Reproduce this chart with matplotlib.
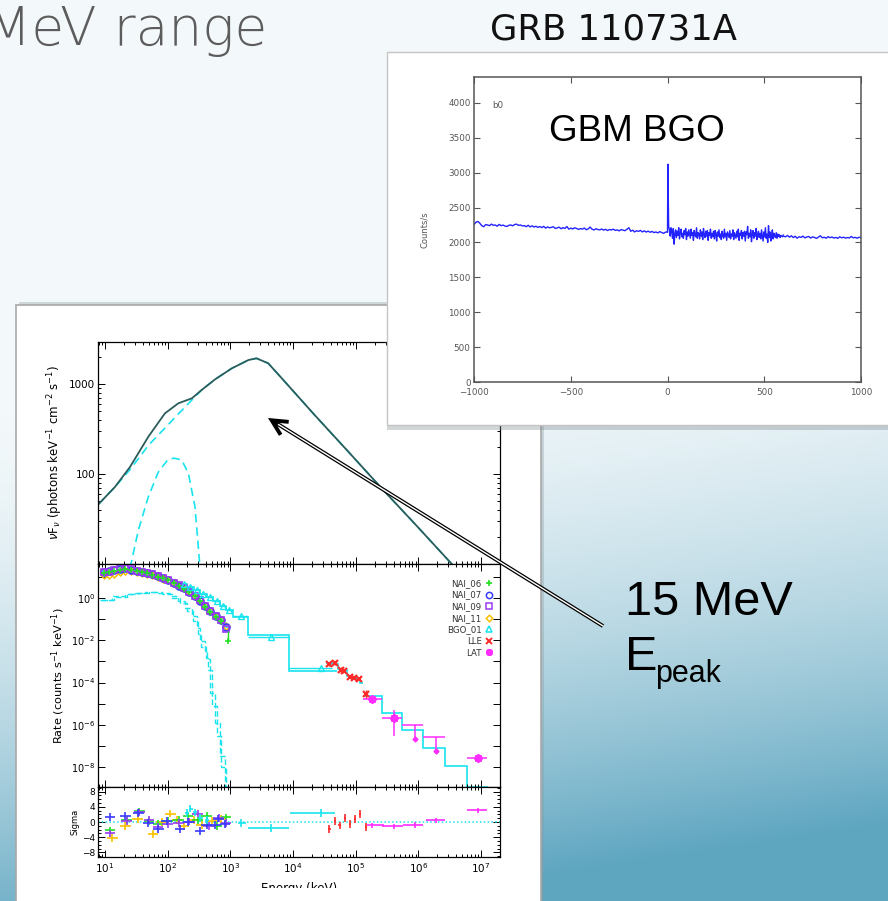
import numpy as np
import matplotlib
matplotlib.use("Agg")
import matplotlib.pyplot as plt
from matplotlib.patches import Rectangle, FancyArrowPatch
from matplotlib.lines import Line2D
from matplotlib.ticker import FixedLocator, NullLocator, FuncFormatter, LogLocator, MultipleLocator

# ---------------- data: light curve (GBM BGO b0) ----------------
LC_PRE_COUNTS = [
    2255, 2290, 2300, 2275, 2240, 2225, 2255, 2250, 2240, 2262,
    2245, 2250, 2232, 2258, 2240, 2248, 2235, 2228, 2245, 2250,
    2238, 2256, 2262, 2244, 2250, 2236, 2240, 2225, 2246, 2222,
    2238, 2220, 2232, 2215, 2228, 2212, 2230, 2205, 2222, 2210,
    2215, 2225, 2200, 2208, 2218, 2196, 2212, 2200, 2228, 2190,
    2205, 2192, 2210, 2200, 2186, 2198, 2190, 2206, 2182, 2194,
    2220, 2190, 2178, 2196, 2185, 2180, 2192, 2176, 2188, 2170,
    2185, 2178, 2190, 2172, 2180, 2165, 2184, 2176, 2168, 2188,
    2210, 2160, 2175, 2150, 2168, 2158, 2172, 2150, 2166, 2148,
    2162, 2145, 2158, 2140, 2150, 2136, 2155, 2142, 2130, 2148,
    2150]
LC_BURST_COUNTS = [
    3120, 2230, 2180, 2090, 2210, 2150, 2060, 2200, 1975, 2120,
    2180, 2070, 2160, 2100, 2210, 2050, 2140, 2190, 2080, 2130,
    2060, 2170, 2110, 2200, 2040, 2150, 2090, 2180, 2120, 2060,
    2190, 2100, 2140, 2030, 2170, 2110, 2080, 2210, 2060, 2140,
    2120, 2050, 2180, 2090, 2150, 2040, 2200, 2110, 2070, 2160,
    2090, 2170, 2030, 2140, 2100, 2190, 2060, 2130, 2080, 2160,
    2050, 2170, 2110, 2020, 2150, 2090, 2180, 2070, 2120, 2040,
    2160, 2100, 2060, 2190, 2080, 2130, 2030, 2150, 2110, 2070,
    2170, 2050, 2120, 2090, 2180, 2040, 2140, 2100, 2060, 2160,
    2080, 2190, 2030, 2130, 2100, 2170, 2050, 2140, 2090, 2160,
    2020, 2150, 2110, 2230, 2060, 2130, 2080, 2180, 2010, 2120,
    2170, 2060, 2140, 2090, 2200, 2040, 2110, 2160, 2070, 2130,
    2050, 2180, 2100, 2020, 2150, 2080, 2210, 2060, 2120, 2000,
    2240, 2070, 2150, 2020, 2110, 2180, 2050, 2130, 2090, 2070,
    2140, 2060, 2120, 2085, 2110, 2070, 2100, 2090, 2080, 2105]
LC_LATE_COUNTS = [
    2090, 2080, 2100, 2075, 2095, 2070, 2088, 2060, 2082, 2072,
    2090, 2065, 2078, 2085, 2062, 2080, 2070, 2058, 2076, 2095,
    2066, 2074, 2060, 2082, 2068, 2078, 2062, 2072, 2058, 2080,
    2066, 2074, 2062, 2070, 2064, 2085, 2066, 2072, 2060, 2074, 2068]
LC_T_PRE = np.arange(-1000, 1, 10)
LC_T_BURST = np.arange(2, 602, 4)
LC_T_LATE = np.arange(600, 1001, 10)
LC_XTICKS = [-1000, -500, 0, 500, 1000]
LC_YTICKS = [0, 500, 1000, 1500, 2000, 2500, 3000, 3500, 4000]

# ---------------- data: nuFnu model (top panel) ----------------
TOT_E = [7.8, 14.4, 25, 49, 90, 147, 242, 347, 570, 1050, 1940, 2600, 4000, 6600, 2.2e4, 7.6e4, 2.6e5, 8.9e5, 3.4e6]
TOT_F = [46, 72, 120, 260, 472, 610, 693, 858, 1128, 1493, 1848, 1930, 1700, 1157, 453, 177, 69, 27.6, 10]
BAND_E = [7.8, 14.4, 25, 49, 90, 147, 272, 347, 570, 1050, 1940, 2600, 4000, 6600, 2.2e4, 7.6e4, 2.6e5, 8.9e5, 3.4e6]
BAND_F = [46, 72, 112, 208, 324, 464, 722, 858, 1128, 1493, 1848, 1930, 1700, 1157, 453, 177, 69, 27.6, 10]
BB_E = [25, 34, 49, 71, 102, 127, 167, 213, 272, 327]
BB_F = [9, 23.9, 56, 106, 146, 150, 143, 102, 43, 9]

# ---------------- data: count spectra (middle panel) ----------------
NAI_E = [9.5, 11.5, 14, 17, 21, 26, 32, 39, 47, 57, 69, 84, 102, 124, 150, 182, 221, 268, 325, 394, 478, 580, 703, 853]
NAI06_E = [9.5, 11.5, 14, 17, 21, 26, 32, 39, 47, 57, 69, 84, 102, 124, 150, 182, 221, 268, 325, 394, 478, 580, 703, 900]
NAI06_R = [16, 17, 19, 22, 24, 22, 19.5, 17, 15, 13, 10.5, 8.8, 7.0, 5.2, 3.9, 2.8, 1.95, 1.25, 0.72, 0.40, 0.23, 0.13, 0.085, 0.009]
NAI07_R = [18, 19, 21, 24, 26, 23, 20, 17, 15, 13.5, 11, 9, 7.2, 5.3, 4.0, 2.9, 2.0, 1.3, 0.75, 0.42, 0.24, 0.14, 0.09, 0.045]
NAI09_R = [17, 18.5, 22, 26, 27, 24, 20, 17.5, 15.5, 13.5, 11.5, 9.2, 7.4, 5.5, 4.1, 3.0, 2.0, 1.3, 0.78, 0.43, 0.25, 0.15, 0.095, 0.035]
NAI11_R = [12, 13, 14.5, 17, 19, 19, 17, 15, 13.5, 12, 10, 8.5, 7.0, 5.2, 4.0, 2.9, 2.0, 1.3, 0.78, 0.44, 0.25, 0.15, 0.09, 0.05]
NAI_MODEL_EDGES = [8.5, 10.5, 12.7, 15.5, 19, 23, 28.5, 35, 43, 52, 63, 76, 93, 113, 137, 166, 202, 245, 298, 362, 440, 535, 650, 790, 920]
NAI_MODEL_R = [17, 18, 20, 23, 25, 23, 20, 17, 15, 13.5, 11, 9, 7.2, 5.3, 4.0, 2.9, 2.0, 1.3, 0.75, 0.42, 0.24, 0.14, 0.09, 0.045]

BGO_E = [180, 230, 290, 370, 470, 600, 760, 960, 1500, 4500, 2.8e4]
BGO_R = [4.5, 3.4, 2.4, 1.6, 1.1, 0.75, 0.45, 0.27, 0.14, 0.015, 5.0e-4]
BGO_LO = [160, 205, 260, 330, 420, 530, 680, 860, 1080, 1890, 8700]
BGO_HI = [205, 260, 330, 420, 530, 680, 860, 1080, 1890, 8700, 4.1e4]
BGO_MODEL_EDGES = [160, 205, 260, 330, 420, 530, 680, 860, 1080, 1890, 8700, 4.95e4]
BGO_MODEL_R = [4.5, 3.4, 2.4, 1.6, 1.1, 0.75, 0.45, 0.27, 0.13, 0.018, 3.5e-4]

BB_A_EDGES = [8.3, 12.8, 20.8, 30, 43.5, 71, 108, 147, 188, 242, 290, 327, 393, 418, 472, 570, 682, 820, 900]
BB_A_R = [0.86, 1.25, 1.6, 1.85, 2.0, 1.8, 1.25, 0.72, 0.35, 0.14, 0.038, 0.009, 3e-3, 1.25e-3, 3.2e-5, 1.2e-6, 3.1e-8, 1.1e-9]
BB_B_EDGES = [9, 14, 22, 33, 50, 80, 115, 155, 200, 255, 300, 345, 400, 440, 500, 600, 700, 850, 950]
BB_B_R = [0.8, 1.15, 1.5, 1.75, 1.9, 1.6, 1.05, 0.6, 0.25, 0.08, 0.02, 0.005, 1.5e-3, 4e-4, 8e-6, 3e-7, 1e-8, 1.1e-9]

LLE_E = [3.8e4, 4.65e4, 5.8e4, 6.6e4, 8.1e4, 9.5e4, 1.12e5, 1.44e5]
LLE_R = [7.2e-4, 8.0e-4, 3.9e-4, 3.7e-4, 1.9e-4, 1.7e-4, 1.5e-4, 3.0e-5]
LLE_R_LO = [6.2e-4, 7.0e-4, 3.4e-4, 3.2e-4, 1.6e-4, 1.45e-4, 1.25e-4, 1.6e-5]
LLE_R_HI = [8.2e-4, 9.0e-4, 4.4e-4, 4.2e-4, 2.2e-4, 1.95e-4, 1.75e-4, 4.2e-5]
LLE_MODEL_EDGES = [3.4e4, 4.2e4, 5.2e4, 6.2e4, 7.3e4, 8.8e4, 1.03e5, 1.18e5, 1.32e5]
LLE_MODEL_R = [8.7e-4, 7.6e-4, 4.4e-4, 3.8e-4, 2.0e-4, 1.7e-4, 1.4e-4, 1.0e-4]

LAT_E = [1.8e5, 4.1e5, 9.0e6]
LAT_R = [1.7e-5, 2.1e-6, 2.6e-8]
LAT_LO = [1.32e5, 2.59e5, 5.9e6]
LAT_HI = [2.59e5, 5.4e5, 1.24e7]
LAT_R_LO = [1.2e-5, 3.0e-7, 2.0e-8]
LAT_R_HI = [2.3e-5, 5.2e-6, 3.3e-8]
LAT_UL_E = [8.8e5, 1.9e6]
LAT_UL_R = [2.1e-7, 5.4e-8]
LAT_UL_TOP = [1.0e-6, 2.6e-7]
LAT_UL_LO = [5.4e5, 1.19e6]
LAT_UL_HI = [1.19e6, 2.65e6]
LAT_MODEL_EDGES = [1.32e5, 2.59e5, 5.4e5, 1.19e6, 2.65e6, 5.9e6, 1.3e7]
LAT_MODEL_R = [2.2e-5, 3.6e-6, 5.8e-7, 7.8e-8, 1.04e-8, 1.15e-9]

LEGEND_LABELS = ["NAI_06", "NAI_07", "NAI_09", "NAI_11", "BGO_01", "LLE", "LAT"]

# ---------------- data: residuals (bottom panel) ----------------
RES06_E = [12, 22, 35, 50, 70, 100, 150, 210, 300, 420, 600, 850]
RES06_S = [-2.2, 0.5, 2.8, 0.2, -0.5, 0.3, 0.6, 1.5, 0.4, 1.6, -1.0, 1.2]
RES07_E = [12, 21, 34, 49, 71, 96, 157, 213, 327, 418, 570, 640, 820]
RES07_S = [1.3, 1.5, 2.4, -0.2, -1.8, 0.3, -1.8, 0.0, -2.3, -0.8, -0.8, 0.9, -0.6]
RES09_E = [12, 22, 35, 50, 70, 100, 150, 220, 300, 450, 650, 850]
RES09_S = [-3.0, 0.2, 2.5, 0.5, -1.2, -0.5, -0.2, 0.1, 2.2, -1.0, 1.0, -0.3]
RES11_E = [13, 21, 33, 58, 80, 110, 140, 180, 260, 350, 500, 700]
RES11_S = [-4.2, -1.0, 0.8, -3.2, 0.0, 2.2, 0.5, -1.0, 0.5, -0.8, 0.3, 0.8]
RESBGO_E = [200, 230, 270, 330, 420, 1500, 4500, 2.8e4]
RESBGO_S = [2.3, 3.5, 2.5, 1.0, 0.5, -0.2, -1.5, 2.4]
RESBGO_LO = [185, 215, 250, 305, 390, 1300, 1890, 8900]
RESBGO_HI = [215, 250, 290, 360, 460, 1750, 8700, 4.6e4]
RESLLE_E = [3.8e4, 4.6e4, 5.5e4, 6.7e4, 8.1e4, 9.7e4, 1.17e5, 1.45e5]
RESLLE_S = [-1.8, 0.2, -0.9, 1.0, -0.5, 0.75, 2.1, -1.3]
RESLAT_E = [1.8e5, 4.1e5, 8.8e5, 1.9e6, 9.0e6]
RESLAT_S = [-0.9, -1.1, -0.75, 0.4, 3.1]
RESLAT_LO = [1.5e5, 2.6e5, 5.7e5, 1.3e6, 5.9e6]
RESLAT_HI = [2.8e5, 5.7e5, 1.2e6, 2.7e6, 1.24e7]

# ---------------- figure ----------------
W, H = 888, 901
fig = plt.figure(figsize=(W / 100, H / 100), dpi=100)

def frect(x0, y0, x1, y1):
    return [x0 / W, 1 - y1 / H, (x1 - x0) / W, (y1 - y0) / H]

def fxy(x, y):
    return (x / W, 1 - y / H)

# background gradient
bg = fig.add_axes([0, 0, 1, 1], zorder=0)
yy, xx = np.mgrid[0:H, 0:W]
v = np.clip((yy - 330 + 0.15 * (xx - 444)) / 560.0, 0, 1) ** 1.7
top = np.array([0.955, 0.975, 0.982])
bot = np.array([0.37, 0.65, 0.755])
img = top[None, None, :] + (bot - top)[None, None, :] * v[:, :, None]
bg.imshow(img, extent=[0, W, H, 0], aspect="auto", interpolation="bilinear")
bg.set_xlim(0, W)
bg.set_ylim(H, 0)
bg.axis("off")

# left card (spectrum)
fig.add_artist(Rectangle(fxy(19, 910), 525 / W, 608 / H, transform=fig.transFigure,
                         facecolor="#8a9aa0", alpha=0.35, edgecolor="none", zorder=1))
fig.add_artist(Rectangle(fxy(16, 910), 525 / W, 605 / H, transform=fig.transFigure,
                         facecolor="white", edgecolor="#a8a8a8", lw=1.2, zorder=1.1))

# inset card (light curve)
fig.add_artist(Rectangle(fxy(387, 430), 520 / W, 376 / H, transform=fig.transFigure,
                         facecolor="#7f8a8f", alpha=0.35, edgecolor="none", zorder=3))
fig.add_artist(Rectangle(fxy(387, 425), 520 / W, 373 / H, transform=fig.transFigure,
                         facecolor="white", edgecolor="#c4c4c4", lw=1.0, zorder=3.1))

CYAN = "#18e4ee"
GREEN = "#1fe01f"
BLUE = "#3a3aff"
PURPLE = "#9a3cf0"
YELLOW = "#f7c000"
RED = "#ff2a2a"
MAGENTA = "#ff2cff"

def style_spec(ax):
    ax.tick_params(which="both", direction="in", top=True, right=True, width=0.7,
                   labelsize=7, pad=2)
    ax.tick_params(which="major", length=5)
    ax.tick_params(which="minor", length=2.5)
    for s in ax.spines.values():
        s.set_linewidth(0.9)
    ax.set_xscale("log")
    ax.set_xlim(7.7, 2.0e7)
    ax.xaxis.set_major_locator(FixedLocator([10.0 ** k for k in range(1, 8)]))
    ax.xaxis.set_minor_locator(LogLocator(base=10, subs=np.arange(2, 10), numticks=20))

# ---- top panel ----
ax1 = fig.add_axes(frect(98, 342, 500, 564), zorder=2)
style_spec(ax1)
ax1.set_yscale("log")
ax1.set_ylim(10, 2930)
ax1.plot(BAND_E, BAND_F, color=CYAN, lw=1.2, dashes=(5, 3))
ax1.plot(BB_E, BB_F, color=CYAN, lw=1.2, dashes=(5, 3))
ax1.plot(TOT_E, TOT_F, color="#2b5c5c", lw=1.3)
ax1.yaxis.set_major_locator(FixedLocator([10, 100, 1000]))
ax1.yaxis.set_major_formatter(FuncFormatter(lambda y, p: "" if y < 50 else "%d" % y))
ax1.yaxis.set_minor_locator(LogLocator(base=10, subs=np.arange(2, 10), numticks=20))
ax1.yaxis.set_minor_formatter(FuncFormatter(lambda y, p: ""))
ax1.tick_params(labelbottom=False)
ax1.tick_params(axis="y", labelsize=7.5)
ax1.set_ylabel(r"$\nu$F$_\nu$ (photons keV$^{-1}$ cm$^{-2}$ s$^{-1}$)", fontsize=8.5, labelpad=3)

# ---- middle panel ----
ax2 = fig.add_axes(frect(98, 564, 500, 787), zorder=2)
style_spec(ax2)
ax2.set_yscale("log")
ax2.set_ylim(1.1e-9, 42)
ax2.stairs(BB_A_R, BB_A_EDGES, color=CYAN, lw=1.0, linestyle=(0, (4, 2)), baseline=None)
ax2.stairs(BB_B_R, BB_B_EDGES, color=CYAN, lw=1.0, linestyle=(0, (4, 2)), baseline=None)
ax2.stairs(NAI_MODEL_R, NAI_MODEL_EDGES, color=CYAN, lw=1.2, baseline=None)
ax2.stairs(BGO_MODEL_R, BGO_MODEL_EDGES, color=CYAN, lw=1.2, baseline=None)
ax2.stairs(LLE_MODEL_R, LLE_MODEL_EDGES, color=CYAN, lw=1.2, baseline=None)
ax2.stairs(LAT_MODEL_R, LAT_MODEL_EDGES, color=CYAN, lw=1.2, baseline=None)

bgo_r = np.array(BGO_R)
bgo_e = np.array(BGO_E)
ax2.errorbar(bgo_e, bgo_r, xerr=[bgo_e - np.array(BGO_LO), np.array(BGO_HI) - bgo_e],
             fmt="^", ms=4.5, mfc="none", mec=CYAN, mew=1.0, ecolor=CYAN, elinewidth=1.0)
ax2.plot(NAI_E, NAI11_R, ls="none", marker="D", ms=3.5, mfc="none", mec=YELLOW, mew=1.1)
ax2.plot(NAI_E, NAI07_R, ls="none", marker="o", ms=5, mfc="none", mec=BLUE, mew=1.2)
ax2.plot(NAI_E, NAI09_R, ls="none", marker="s", ms=4.5, mfc="none", mec=PURPLE, mew=1.2)
ax2.errorbar([NAI06_E[-1]], [NAI06_R[-1]], yerr=[[0.0], [0.02]], fmt="none", ecolor=GREEN, elinewidth=1.0)
ax2.plot(NAI06_E, NAI06_R, ls="none", marker="+", ms=4, mec=GREEN, mew=1.1)

lle_e = np.array(LLE_E)
lle_r = np.array(LLE_R)
ax2.errorbar(lle_e, lle_r, yerr=[lle_r - np.array(LLE_R_LO), np.array(LLE_R_HI) - lle_r],
             fmt="x", ms=4.5, mec=RED, mew=1.6, ecolor=RED, elinewidth=1.0)
lat_e = np.array(LAT_E)
lat_r = np.array(LAT_R)
ax2.errorbar(lat_e, lat_r, xerr=[lat_e - np.array(LAT_LO), np.array(LAT_HI) - lat_e],
             yerr=[lat_r - np.array(LAT_R_LO), np.array(LAT_R_HI) - lat_r],
             fmt="none", ecolor=MAGENTA, elinewidth=1.1)
ax2.plot(lat_e, lat_r, ls="none", marker=(8, 2, 0), ms=6, mec=MAGENTA, mew=1.4)
ax2.hlines(LAT_UL_TOP, LAT_UL_LO, LAT_UL_HI, color=MAGENTA, lw=1.1)
ax2.vlines(LAT_UL_E, LAT_UL_R, LAT_UL_TOP, color=MAGENTA, lw=1.1)
ax2.plot(LAT_UL_E, LAT_UL_R, ls="none", marker="D", ms=2.5, color=MAGENTA)

ax2.yaxis.set_major_locator(FixedLocator([10.0 ** k for k in range(-9, 2)]))
ax2.yaxis.set_minor_locator(NullLocator())
ax2.yaxis.set_major_formatter(FuncFormatter(
    lambda y, p: (r"$10^{%d}$" % int(round(np.log10(y)))) if int(round(np.log10(y))) % 2 == 0 and y < 5 and y > 5e-9 else ""))
ax2.tick_params(labelbottom=False)
ax2.set_ylabel(r"Rate (counts s$^{-1}$ keV$^{-1}$)", fontsize=8.2, labelpad=3)

handles = [
    Line2D([], [], ls="none", marker="+", ms=4.5, mec=GREEN, mew=1.2),
    Line2D([], [], ls="none", marker="o", ms=4.5, mfc="none", mec=BLUE, mew=1.1),
    Line2D([], [], ls="none", marker="s", ms=4.5, mfc="none", mec=PURPLE, mew=1.1),
    Line2D([], [], ls="none", marker="D", ms=3.3, mfc="none", mec=YELLOW, mew=1.1),
    Line2D([], [], ls="none", marker="^", ms=4.5, mfc="none", mec=CYAN, mew=1.1),
    Line2D([], [], ls="none", marker="x", ms=4.5, mec=RED, mew=1.4),
    Line2D([], [], ls="none", marker=(8, 2, 0), ms=5, mec=MAGENTA, mew=1.4),
]
ax2.legend(handles, LEGEND_LABELS, loc="upper right",
           bbox_to_anchor=((492 - 98) / 402.0, 1 - (579 - 564) / 223.0),
           frameon=False, markerfirst=False, fontsize=6.2, handlelength=0.8,
           handletextpad=0.4, labelspacing=0.3, borderaxespad=0, borderpad=0,
           labelcolor="#333333")

# ---- bottom panel ----
ax3 = fig.add_axes(frect(98, 787, 500, 857), zorder=2)
style_spec(ax3)
ax3.set_ylim(-9.2, 9.2)
ax3.yaxis.set_major_locator(FixedLocator([-8, -4, 0, 4, 8]))
ax3.yaxis.set_minor_locator(MultipleLocator(1))
ax3.tick_params(axis="y", labelsize=6.5)
ax3.axhline(0, color=CYAN, lw=1.1, ls=(0, (1, 1.5)))

def res(ax, e, s, color, lo=None, hi=None, frac=1.22, yerr=1.0):
    e = np.array(e, dtype=float)
    if lo is None:
        xe = [e - e / frac, e * frac - e]
    else:
        xe = [e - np.array(lo), np.array(hi) - e]
    ax.errorbar(e, s, xerr=xe, yerr=yerr, fmt="none", ecolor=color, elinewidth=1.2)

res(ax3, RES11_E, RES11_S, YELLOW)
res(ax3, RES06_E, RES06_S, GREEN)
res(ax3, RES09_E, RES09_S, PURPLE)
res(ax3, RES07_E, RES07_S, BLUE)
res(ax3, RESBGO_E, RESBGO_S, CYAN, RESBGO_LO, RESBGO_HI)
res(ax3, RESLLE_E, RESLLE_S, RED, frac=1.04)
res(ax3, RESLAT_E, RESLAT_S, MAGENTA, RESLAT_LO, RESLAT_HI, yerr=0.7)
ax3.xaxis.set_major_formatter(FuncFormatter(lambda x, p: r"$10^{%d}$" % int(round(np.log10(x)))))
ax3.tick_params(axis="x", labelsize=7.5, pad=3)
ax3.set_ylabel("Sigma", fontsize=6, labelpad=2)
ax3.set_xlabel("Energy (keV)", fontsize=8.5, labelpad=5)

# crop of the embedded figure (bottom edge)
fig.add_artist(Rectangle(fxy(17.5, 910), 522 / W, 22 / H, transform=fig.transFigure,
                         facecolor="white", edgecolor="none", zorder=2.5))

# ---- light curve ----
axl = fig.add_axes(frect(474, 77, 861, 382), zorder=4)
axl.plot(LC_T_PRE, LC_PRE_COUNTS, color="#2323ff", lw=1.0)
axl.plot(np.concatenate([[LC_T_PRE[-1]], LC_T_BURST]),
         np.concatenate([[LC_PRE_COUNTS[-1]], LC_BURST_COUNTS]), color="#2323ff", lw=1.0)
axl.plot(LC_T_LATE, LC_LATE_COUNTS, color="#2323ff", lw=1.0)
axl.set_xlim(-1000, 1000)
axl.set_ylim(0, 4370)
axl.set_xticks(LC_XTICKS)
axl.set_yticks(LC_YTICKS)
axl.set_xticklabels(["\u22121000", "\u2212500", "0", "500", "1000"])
axl.tick_params(which="both", direction="in", top=True, right=True, length=4, width=0.8,
                labelsize=6.3, colors="#555555", labelcolor="#555555", pad=2.5)
axl.tick_params(axis="x", pad=4)
for s in axl.spines.values():
    s.set_linewidth(1.1)
    s.set_color("#555555")
axl.set_ylabel("Counts/s", fontsize=6, color="#555555", labelpad=14)
axl.text(0.047, 0.9, "b0", transform=axl.transAxes, fontsize=6.3, color="#555555")

# ---- slide texts ----
fig.text(*fxy(267, 45), "MeV range", ha="right", va="baseline", fontsize=38.5,
         color="#5c5c5c", family=["DejaVu Sans"], fontweight="light", zorder=6)
fig.text(*fxy(490, 40), "GRB 110731A", ha="left", va="baseline", fontsize=25.5,
         color="#111111", family=["Liberation Sans Narrow", "DejaVu Sans"], zorder=6)
fig.text(*fxy(549, 141), "GBM BGO", ha="left", va="baseline", fontsize=26.5,
         color="black", family=["Liberation Sans", "DejaVu Sans"], zorder=6)
fig.text(*fxy(625, 615), "15 MeV", ha="left", va="baseline", fontsize=35,
         color="black", family=["Liberation Sans", "DejaVu Sans"], zorder=6)
fig.text(*fxy(625, 670), "E", ha="left", va="baseline", fontsize=35,
         color="black", family=["Liberation Sans", "DejaVu Sans"], zorder=6)
fig.text(*fxy(655, 682), "peak", ha="left", va="baseline", fontsize=22,
         color="black", family=["Liberation Sans", "DejaVu Sans"], zorder=6)

# ---- double-line arrow ----
tail = fxy(603, 626)
tip = fxy(268, 418)
fig.add_artist(FancyArrowPatch(tail, tip, transform=fig.transFigure,
                               arrowstyle="->,head_length=11,head_width=5.5", mutation_scale=1,
                               color="black", lw=2.8, shrinkA=0, shrinkB=0, zorder=7,
                               joinstyle="miter", capstyle="butt"))
inner_end = fxy(268 + (603 - 268) * 0.03, 418 + (626 - 418) * 0.03)
fig.add_artist(Line2D([tail[0], inner_end[0]], [tail[1], inner_end[1]], transform=fig.transFigure,
                      color="white", lw=1.0, zorder=8, solid_capstyle="butt"))

fig.savefig("out.png", dpi=100)
